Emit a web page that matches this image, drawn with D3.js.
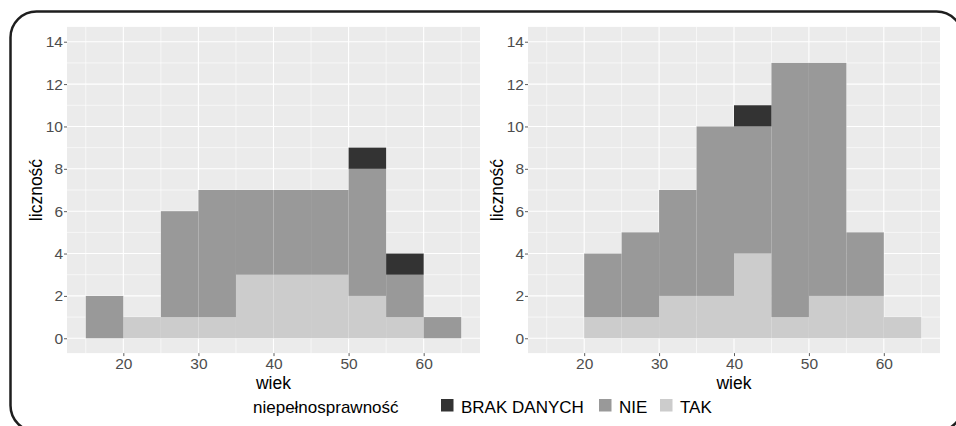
<!DOCTYPE html>
<html>
<head>
<meta charset="utf-8">
<script src="https://cdn.jsdelivr.net/npm/d3@7"></script>
<style>
  body { margin: 0; background: #fff; }
  text { font-family: "Liberation Sans", Arial, sans-serif; }
</style>
</head>
<body>
<div id="chart"></div>
<script>
// data: counts per 5-year age bin
const binStarts = [15, 20, 25, 30, 35, 40, 45, 50, 55, 60];
const binWidth = 5;
const keys = ["TAK", "NIE", "BRAK DANYCH"];
const legendKeys = ["BRAK DANYCH", "NIE", "TAK"];
const colors = { "BRAK DANYCH": "#333333", "NIE": "#999999", "TAK": "#cccccc" };

const leftTAK  = [0, 1, 1, 1, 3, 3, 3, 2, 1, 0];
const leftNIE  = [2, 0, 5, 6, 4, 4, 4, 6, 2, 1];
const leftBRAK = [0, 0, 0, 0, 0, 0, 0, 1, 1, 0];

const rightTAK  = [0, 1, 1, 2, 2, 4, 1, 2, 2, 1];
const rightNIE  = [0, 3, 4, 5, 8, 6, 12, 11, 3, 0];
const rightBRAK = [0, 0, 0, 0, 0, 1, 0, 0, 0, 0];

const xTicks = [20, 30, 40, 50, 60];
const xMinor = [15, 25, 35, 45, 55, 65];
const yTicks = [0, 2, 4, 6, 8, 10, 12, 14];
const yMinor = [1, 3, 5, 7, 9, 11, 13];

const W = 956, H = 426;
const svg = d3.select("#chart").append("svg")
    .attr("width", W)
    .attr("height", H);

// outer rounded frame
svg.append("rect")
    .attr("x", 10.5).attr("y", 11.5)
    .attr("width", 952).attr("height", 420)
    .attr("rx", 26).attr("ry", 26)
    .attr("fill", "none")
    .attr("stroke", "#1e1e1e")
    .attr("stroke-width", 2.5);

const panelTop = 26.9, panelBottom = 353.1;

function makeRows(tak, nie, brak) {
    return binStarts.map((b, i) => ({ x0: b, "TAK": tak[i], "NIE": nie[i], "BRAK DANYCH": brak[i] }));
}

function drawPanel(left, right, rows) {
    const x = d3.scaleLinear().domain([12.5, 67.5]).range([left, right]);
    const y = d3.scaleLinear().domain([-0.7, 14.7]).range([panelBottom, panelTop]);
    const g = svg.append("g");

    g.append("rect")
        .attr("x", left).attr("y", panelTop)
        .attr("width", right - left).attr("height", panelBottom - panelTop)
        .attr("fill", "#ebebeb");

    // grid
    g.selectAll(".ymin").data(yMinor).enter().append("line")
        .attr("x1", left).attr("x2", right)
        .attr("y1", d => y(d)).attr("y2", d => y(d))
        .attr("stroke", "#fff").attr("stroke-width", 0.6);
    g.selectAll(".xmin").data(xMinor).enter().append("line")
        .attr("y1", panelTop).attr("y2", panelBottom)
        .attr("x1", d => x(d)).attr("x2", d => x(d))
        .attr("stroke", "#fff").attr("stroke-width", 0.6);
    g.selectAll(".ymaj").data(yTicks).enter().append("line")
        .attr("x1", left).attr("x2", right)
        .attr("y1", d => y(d)).attr("y2", d => y(d))
        .attr("stroke", "#fff").attr("stroke-width", 1.1);
    g.selectAll(".xmaj").data(xTicks).enter().append("line")
        .attr("y1", panelTop).attr("y2", panelBottom)
        .attr("x1", d => x(d)).attr("x2", d => x(d))
        .attr("stroke", "#fff").attr("stroke-width", 1.1);

    // stacked bars
    const series = d3.stack().keys(keys)(rows);
    series.forEach(s => {
        g.append("g").selectAll("rect")
            .data(s.filter(d => d[1] > d[0]))
            .enter().append("rect")
            .attr("x", d => x(d.data.x0))
            .attr("width", d => x(d.data.x0 + binWidth) - x(d.data.x0))
            .attr("y", d => y(d[1]))
            .attr("height", d => y(d[0]) - y(d[1]))
            .attr("fill", colors[s.key]);
    });

    // y axis
    const ya = g.append("g").attr("transform", `translate(${left},0)`)
        .call(d3.axisLeft(y).tickValues(yTicks).tickSize(3).tickPadding(1));
    ya.select(".domain").remove();
    ya.selectAll("line").attr("stroke", "#333").attr("stroke-width", 0.8);
    ya.selectAll("text").attr("fill", "#4d4d4d").style("font-size", "15.5px")
        .style("font-family", "Liberation Sans, Arial, sans-serif");

    // x axis
    const xa = g.append("g").attr("transform", `translate(0,${panelBottom})`)
        .call(d3.axisBottom(x).tickValues(xTicks).tickSize(3).tickPadding(2));
    xa.select(".domain").remove();
    xa.selectAll("line").attr("stroke", "#333").attr("stroke-width", 0.8);
    xa.selectAll("text").attr("fill", "#4d4d4d").style("font-size", "15.5px")
        .style("font-family", "Liberation Sans, Arial, sans-serif");

    // titles
    g.append("text")
        .attr("x", (left + right) / 2).attr("y", 388.5)
        .attr("text-anchor", "middle")
        .style("font-size", "17.5px")
        .text("wiek");
    g.append("text")
        .attr("transform", `translate(${left - 25},${(panelTop + panelBottom) / 2}) rotate(-90)`)
        .attr("text-anchor", "middle")
        .style("font-size", "17.5px")
        .text("liczność");
}

drawPanel(67, 480, makeRows(leftTAK, leftNIE, leftBRAK));
drawPanel(528, 940, makeRows(rightTAK, rightNIE, rightBRAK));

// legend
const legend = svg.append("g");
legend.append("text")
    .attr("x", 253).attr("y", 413)
    .style("font-size", "17px")
    .text("niepełnosprawność");

const legendX = [441, 599, 660];
legendKeys.forEach((k, i) => {
    legend.append("rect")
        .attr("x", legendX[i]).attr("y", 399)
        .attr("width", 12.5).attr("height", 12.5)
        .attr("fill", colors[k]);
    legend.append("text")
        .attr("x", legendX[i] + 20).attr("y", 413)
        .style("font-size", "17px")
        .text(k);
});
</script>
</body>
</html>
